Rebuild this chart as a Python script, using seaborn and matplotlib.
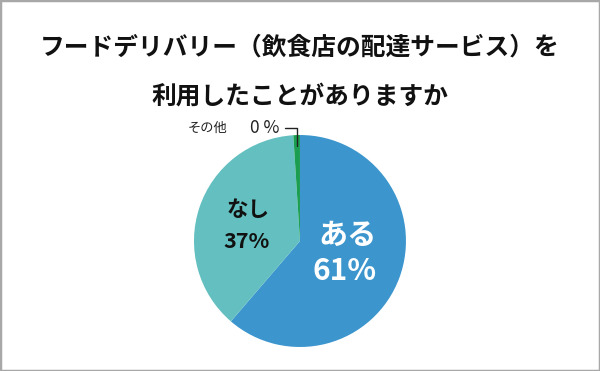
import numpy as np
import seaborn as sns
import matplotlib.pyplot as plt
from matplotlib.patches import Rectangle

# values (slice sizes), and the printed labels
categories = ['ある', 'なし', 'その他']
shares = [61.3, 37.7, 1.0]
pct_labels = ['61%', '37%', '0 %']
colors = ['#3c96cd', '#64c0c0', '#1b9e50']

sns.set_theme(style='white')
plt.rcParams['font.family'] = ['Noto Sans CJK JP', 'DejaVu Sans']

fig = plt.figure(figsize=(6, 3.71), dpi=100)
fig.patches.append(Rectangle((0, 0), 1, 1, transform=fig.transFigure,
                             fill=False, edgecolor='#a8a8a8', linewidth=2.5))

fig.text(0.5, 0.873, 'フードデリバリー（飲食店の配達サービス）を',
         ha='center', va='center', fontsize=17.8, fontweight='bold', color='#111111')
fig.text(0.5, 0.739, '利用したことがありますか',
         ha='center', va='center', fontsize=17.8, fontweight='bold', color='#111111')

ax = fig.add_axes([0.3233, 0.0647, 0.3533, 0.5714])
wedges, _ = ax.pie(shares, colors=sns.color_palette(colors), startangle=90,
                   counterclock=False, radius=1,
                   wedgeprops=dict(linewidth=0))
ax.set_xlim(-1, 1)
ax.set_ylim(-1, 1)
ax.set_aspect('equal')
ax.axis('off')

# big labels inside the slices
ax.text(0.445, 0.06, categories[0], ha='center', va='center', fontsize=21,
        fontweight='bold', color='white')
ax.text(0.425, -0.28, pct_labels[0], ha='center', va='center', fontsize=21.5,
        fontweight='bold', color='white')
ax.text(-0.49, 0.30, categories[1], ha='center', va='center', fontsize=15.5,
        fontweight='bold', color='#111111')
ax.text(-0.505, -0.005, pct_labels[1], ha='center', va='center', fontsize=15.5,
        fontweight='bold', color='#111111')

# small label with a leader line for the thin slice
w = wedges[2]
mid = np.deg2rad((w.theta1 + w.theta2) / 2)
px, py = 0.9 * np.cos(mid), 0.9 * np.sin(mid)
ax.plot([-0.14, px, px], [1.066, 1.066, py], color='#222222', lw=1,
        clip_on=False)
ax.text(-0.68, 1.066, categories[2], ha='right', va='center', fontsize=9.5,
        color='#222222')
ax.text(-0.475, 1.066, pct_labels[2], ha='left', va='center', fontsize=12.5,
        color='#222222')

fig.savefig('out.png', dpi=100)
